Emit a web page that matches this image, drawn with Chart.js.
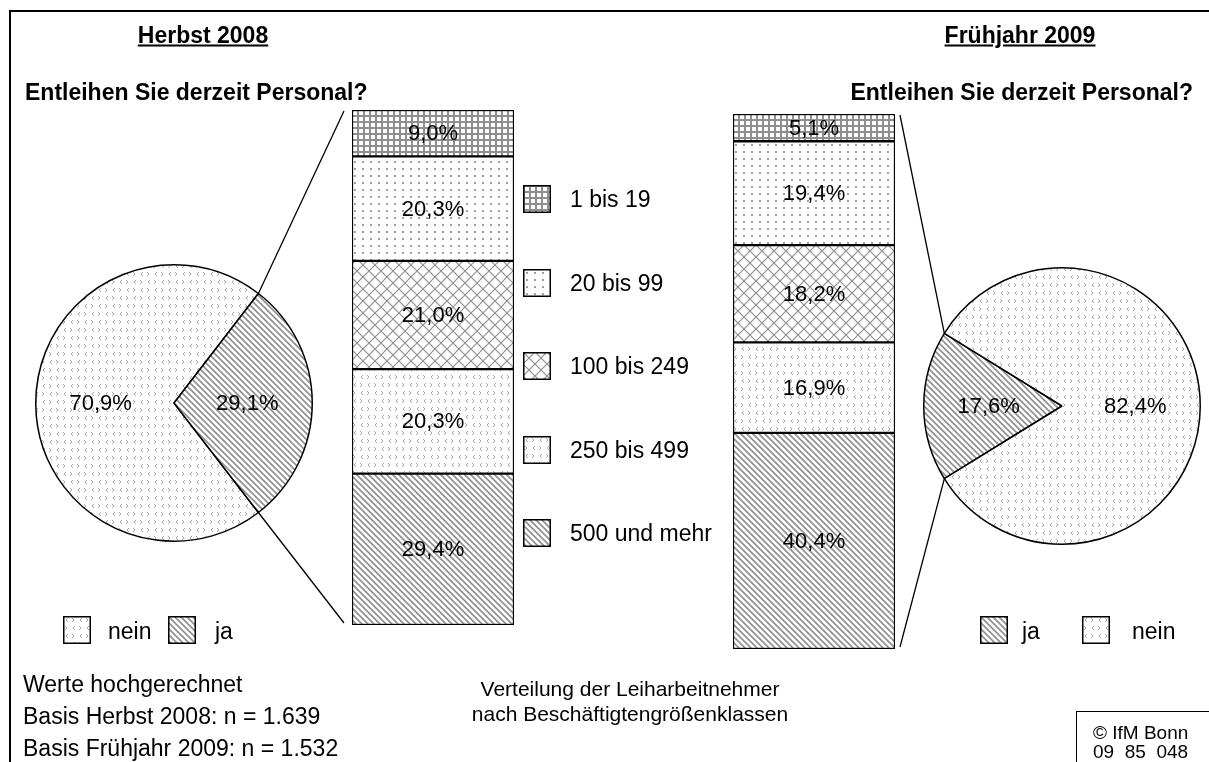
<!DOCTYPE html>
<html>
<head>
<meta charset="utf-8">
<script src="https://cdn.jsdelivr.net/npm/chart.js@4.4.1/dist/chart.umd.min.js"></script>
<style>
  html, body { margin: 0; padding: 0; background: #fff; }
  body { width: 1209px; height: 762px; position: relative; overflow: hidden;
         font-family: "Liberation Sans", Arial, sans-serif; color: #000; }
  .abs { position: absolute; }
  .frame { left: 9px; top: 10px; width: 1400px; height: 900px; border: 2px solid #000; }
  .txt { position: absolute; white-space: nowrap; font-size: 23px; line-height: 1; transform: translateY(-50%); }
  .ctr { transform: translate(-50%, -50%); text-align: center; }
  .bold { font-weight: bold; }
  .ul { text-decoration: underline; }
  .sw { position: absolute; width: 28px; height: 28px; }
  .box { position: absolute; left: 1076px; top: 711px; width: 200px; height: 100px; border: 1.5px solid #000; }
</style>
</head>
<body>
<div class="abs frame"></div>
<canvas id="overlay" class="abs" width="1209" height="762" style="left:0;top:0"></canvas>

<div class="txt bold ul ctr" style="left:203px;top:35px">Herbst 2008</div>
<div class="txt bold ul ctr" style="left:1020px;top:35px">Frühjahr 2009</div>
<div class="txt bold" style="left:25px;top:92px">Entleihen Sie derzeit Personal?</div>
<div class="txt bold" style="right:16px;top:92px">Entleihen Sie derzeit Personal?</div>

<div class="abs" style="left:33px;top:262px;width:282px;height:282px"><canvas id="pieHerbst"></canvas></div>
<div class="abs" style="left:351px;top:109px;width:164px;height:517px"><canvas id="barHerbst"></canvas></div>
<div class="abs" style="left:732px;top:113px;width:164px;height:537px"><canvas id="barFruehjahr"></canvas></div>
<div class="abs" style="left:921px;top:265px;width:282px;height:282px"><canvas id="pieFruehjahr"></canvas></div>

<div id="barLegend"></div>
<div id="legendHerbst"></div>
<div id="legendFruehjahr"></div>

<div class="txt" style="left:23px;top:684px">Werte hochgerechnet</div>
<div class="txt" style="left:23px;top:716px">Basis Herbst 2008: n = 1.639</div>
<div class="txt" style="left:23px;top:748px">Basis Frühjahr 2009: n = 1.532</div>

<div class="txt ctr" style="left:630px;top:688px;font-size:21px">Verteilung der Leiharbeitnehmer</div>
<div class="txt ctr" style="left:630px;top:713px;font-size:21px">nach Beschäftigtengrößenklassen</div>

<div class="box"></div>
<div class="txt" style="left:1093px;top:732px;font-size:19px">© IfM Bonn</div>
<div class="txt" style="left:1093px;top:751px;font-size:19px">09&nbsp;&nbsp;85&nbsp;&nbsp;048</div>

<script>
// Daten
const pieLabelsHerbst = ["nein", "ja"];
const pieValuesHerbst = [70.9, 29.1];
const pieLabelsFruehjahr = ["ja", "nein"];
const pieValuesFruehjahr = [17.6, 82.4];

const groessenklassen = ["1 bis 19", "20 bis 99", "100 bis 249", "250 bis 499", "500 und mehr"];
const anteilHerbst = [9.0, 20.3, 21.0, 20.3, 29.4];
const anteilFruehjahr = [5.1, 19.4, 18.2, 16.9, 40.4];

const FONT = '"Liberation Sans", Arial, sans-serif';

// Schraffuren
function makePattern(kind) {
  const c = document.createElement("canvas");
  const g = c.getContext("2d");
  const grey = "#8f8f8f";
  if (kind === "grid") {
    c.width = 6; c.height = 6;
    g.fillStyle = "#fff"; g.fillRect(0, 0, 6, 6);
    g.fillStyle = grey; g.fillRect(0, 0, 2, 6); g.fillRect(0, 0, 6, 2);
  } else if (kind === "dots") {
    c.width = 8; c.height = 7;
    g.fillStyle = "#fff"; g.fillRect(0, 0, 8, 7);
    g.fillStyle = "#a0a0a0"; g.fillRect(3, 3, 2, 2);
  } else if (kind === "diamond") {
    c.width = 12; c.height = 12;
    g.fillStyle = "#fff"; g.fillRect(0, 0, 12, 12);
    g.strokeStyle = grey; g.lineWidth = 1.2;
    g.beginPath(); g.moveTo(0, 0); g.lineTo(12, 12); g.moveTo(0, 12); g.lineTo(12, 0); g.stroke();
  } else if (kind === "chevron") {
    c.width = 14; c.height = 16;
    g.fillStyle = "#fff"; g.fillRect(0, 0, 14, 16);
    g.strokeStyle = "#a8a8a8"; g.lineWidth = 1;
    g.beginPath();
    g.moveTo(5, 2); g.lineTo(3, 4); g.lineTo(5, 6);       // <
    g.moveTo(9, 2); g.lineTo(11, 4); g.lineTo(9, 6);      // >
    g.moveTo(2, 10); g.lineTo(4, 12); g.lineTo(2, 14);    // >
    g.moveTo(12, 10); g.lineTo(10, 12); g.lineTo(12, 14); // <
    g.stroke();
  } else if (kind === "diag") {
    c.width = 6; c.height = 6;
    g.fillStyle = "#fff"; g.fillRect(0, 0, 6, 6);
    g.strokeStyle = grey; g.lineWidth = 1.6;
    g.beginPath();
    g.moveTo(-1, -1); g.lineTo(7, 7);
    g.moveTo(-4, 2); g.lineTo(4, 10);
    g.moveTo(2, -4); g.lineTo(10, 4);
    g.stroke();
  }
  return g.createPattern(c, "repeat");
}

const klassenPattern = {
  "1 bis 19": makePattern("grid"),
  "20 bis 99": makePattern("dots"),
  "100 bis 249": makePattern("diamond"),
  "250 bis 499": makePattern("chevron"),
  "500 und mehr": makePattern("diag"),
};
const antwortPattern = { "nein": makePattern("chevron"), "ja": makePattern("diag") };

function fmt(v) { return v.toFixed(1).replace(".", ",") + "%"; }

// Prozentwerte in Segmente schreiben
const pctLabels = {
  id: "pctLabels",
  afterDatasetsDraw(chart) {
    const ctx = chart.ctx;
    ctx.save();
    ctx.font = "22px " + FONT;
    ctx.fillStyle = "#000";
    ctx.textAlign = "center";
    ctx.textBaseline = "middle";
    chart.data.datasets.forEach((ds, i) => {
      chart.getDatasetMeta(i).data.forEach((el, j) => {
        let x, y;
        if (el.outerRadius !== undefined) {
          const a = (el.startAngle + el.endAngle) / 2;
          const r = el.outerRadius * 0.53;
          x = el.x + r * Math.cos(a);
          y = el.y + r * Math.sin(a);
        } else {
          x = el.x;
          y = (el.y + el.base) / 2;
        }
        ctx.fillText(fmt(ds.data[j]), x, y + 1);
      });
    });
    ctx.restore();
  }
};

// Drehung so, dass das "ja"-Segment nach rechts bzw. links zeigt
function rotationFor(values, idx, targetDeg) {
  const total = values.reduce((a, b) => a + b, 0);
  let before = 0;
  for (let i = 0; i < idx; i++) before += values[i];
  const mid = (before + values[idx] / 2) / total * 360;
  return targetDeg + 90 - mid;
}

function pieConfig(labels, values, targetDeg) {
  return {
    type: "pie",
    data: {
      labels: labels,
      datasets: [{
        data: values,
        backgroundColor: labels.map(l => antwortPattern[l]),
        borderColor: "#000",
        borderWidth: 1.5,
      }],
    },
    options: {
      responsive: true,
      maintainAspectRatio: false,
      animation: false,
      events: [],
      rotation: rotationFor(values, labels.indexOf("ja"), targetDeg),
      layout: { padding: 2 },
      plugins: { legend: { display: false }, tooltip: { enabled: false } },
    },
    plugins: [pctLabels],
  };
}

function barConfig(name, values) {
  // unterste Klasse zuerst stapeln
  const order = groessenklassen.map((k, i) => i).reverse();
  return {
    type: "bar",
    data: {
      labels: [name],
      datasets: order.map(i => ({
        label: groessenklassen[i],
        data: [values[i]],
        backgroundColor: klassenPattern[groessenklassen[i]],
        borderColor: "#000",
        borderWidth: 1.5,
        borderSkipped: false,
        barPercentage: 1,
        categoryPercentage: 1,
      })),
    },
    options: {
      responsive: true,
      maintainAspectRatio: false,
      animation: false,
      events: [],
      layout: { padding: 1 },
      scales: {
        x: { stacked: true, display: false },
        y: { stacked: true, display: false, min: 0, max: 100 },
      },
      plugins: { legend: { display: false }, tooltip: { enabled: false } },
    },
    plugins: [pctLabels],
  };
}

const pieHerbst = new Chart(document.getElementById("pieHerbst"), pieConfig(pieLabelsHerbst, pieValuesHerbst, 0));
const barHerbst = new Chart(document.getElementById("barHerbst"), barConfig("Herbst 2008", anteilHerbst));
const barFruehjahr = new Chart(document.getElementById("barFruehjahr"), barConfig("Frühjahr 2009", anteilFruehjahr));
const pieFruehjahr = new Chart(document.getElementById("pieFruehjahr"), pieConfig(pieLabelsFruehjahr, pieValuesFruehjahr, 180));

// Legenden
function swatch(pattern, left, top) {
  const c = document.createElement("canvas");
  c.width = 28; c.height = 28;
  c.className = "sw";
  c.style.left = left + "px";
  c.style.top = top + "px";
  const g = c.getContext("2d");
  g.fillStyle = pattern; g.fillRect(0, 0, 28, 28);
  g.strokeStyle = "#000"; g.lineWidth = 1.5; g.strokeRect(0.75, 0.75, 26.5, 26.5);
  return c;
}
function label(text, left, cy) {
  const d = document.createElement("div");
  d.className = "txt";
  d.style.left = left + "px";
  d.style.top = cy + "px";
  d.textContent = text;
  return d;
}

const barLegend = document.getElementById("barLegend");
groessenklassen.forEach((k, i) => {
  const cy = 199 + i * 83.5;
  barLegend.appendChild(swatch(klassenPattern[k], 523, cy - 14));
  barLegend.appendChild(label(k, 570, cy));
});

const legendHerbst = document.getElementById("legendHerbst");
[[63, 108], [168, 215]].forEach((pos, i) => {
  legendHerbst.appendChild(swatch(antwortPattern[pieLabelsHerbst[i]], pos[0], 616));
  legendHerbst.appendChild(label(pieLabelsHerbst[i], pos[1], 631));
});
const legendFruehjahr = document.getElementById("legendFruehjahr");
[[980, 1022], [1082, 1132]].forEach((pos, i) => {
  legendFruehjahr.appendChild(swatch(antwortPattern[pieLabelsFruehjahr[i]], pos[0], 616));
  legendFruehjahr.appendChild(label(pieLabelsFruehjahr[i], pos[1], 631));
});

// Verbindungslinien zwischen "ja"-Segment und Balken
function connect(pie, bar, side) {
  const ctx = document.getElementById("overlay").getContext("2d");
  const pr = pie.canvas.getBoundingClientRect();
  const br = bar.canvas.getBoundingClientRect();
  const jaIdx = pie.data.labels.indexOf("ja");
  const arc = pie.getDatasetMeta(0).data[jaIdx];
  const pts = [arc.startAngle, arc.endAngle].map(a => ({
    x: pr.left + arc.x + arc.outerRadius * Math.cos(a),
    y: pr.top + arc.y + arc.outerRadius * Math.sin(a),
  })).sort((p, q) => p.y - q.y);
  const n = bar.data.datasets.length;
  const topEl = bar.getDatasetMeta(n - 1).data[0];
  const botEl = bar.getDatasetMeta(0).data[0];
  const edge = side < 0 ? topEl.x - topEl.width / 2 - 8 : topEl.x + topEl.width / 2 + 5;
  ctx.strokeStyle = "#000";
  ctx.lineWidth = 1.3;
  ctx.beginPath();
  ctx.moveTo(pts[0].x, pts[0].y);
  ctx.lineTo(br.left + edge, br.top + topEl.y + 1);
  ctx.moveTo(pts[1].x, pts[1].y);
  ctx.lineTo(br.left + edge, br.top + botEl.base - 2);
  ctx.stroke();
}
connect(pieHerbst, barHerbst, -1);
connect(pieFruehjahr, barFruehjahr, 1);
</script>
</body>
</html>
